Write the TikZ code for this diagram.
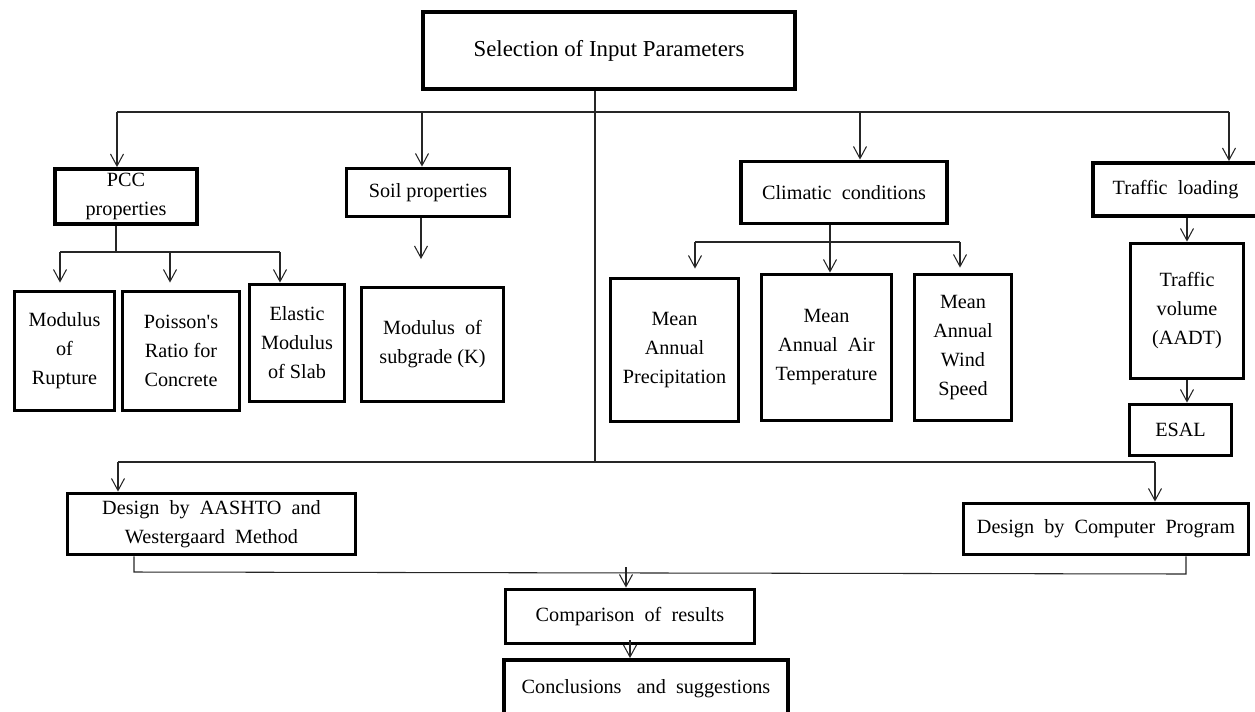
\documentclass[tikz,border=0pt]{standalone}
\usepackage{fontspec}
\setmainfont{Liberation Serif}
\usetikzlibrary{positioning,arrows.meta}

\begin{document}
\begin{tikzpicture}[x=0.02cm, y=-0.02cm, line width=0.6pt,
            squarednode/.style={rectangle, draw=black, line width=2.2pt, align=center, inner sep=1pt,
                                font=\fontsize{11.5}{16.5}\selectfont},
            link/.style={draw=black!85},
            >={Straight Barb[length=2.4mm,width=2.6mm]},
            ]
            \clip (0,0) rectangle (1255,711);
            %Nodes
            \node[squarednode, minimum width=7.44cm, minimum height=1.54cm, font=\fontsize{13}{16}\selectfont] (sel) at (609,50.5) {Selection of Input Parameters};

            \node[squarednode, minimum width=2.84cm, minimum height=1.10cm] (pcc)  at (126,196.5)  {PCC\\properties};
            \node[squarednode, minimum width=3.26cm, minimum height=0.96cm] (soil) at (428,192.5)  {Soil properties};
            \node[squarednode, minimum width=4.12cm, minimum height=1.24cm] (clim) at (844,192.5)  {Climatic~~conditions};
            \node[squarednode, minimum width=3.30cm, minimum height=1.06cm] (traf) at (1175.5,189.5) {Traffic~~loading};

            \node[squarednode, minimum width=2.00cm, minimum height=2.38cm] (rupt) at (64.5,351)  {Modulus\\of\\Rupture};
            \node[squarednode, minimum width=2.34cm, minimum height=2.38cm] (pois) at (181,351)   {Poisson\textquotesingle s\\Ratio for\\Concrete};
            \node[squarednode, minimum width=1.90cm, minimum height=2.34cm] (elas) at (297,343)   {Elastic\\Modulus\\of Slab};
            \node[squarednode, minimum width=2.84cm, minimum height=2.28cm] (subg) at (432.5,344.5) {Modulus~ of\\subgrade (K)};

            \node[squarednode, minimum width=2.56cm, minimum height=2.86cm] (prec) at (674.5,350) {Mean\\Annual\\Precipitation};
            \node[squarednode, minimum width=2.60cm, minimum height=2.92cm] (temp) at (826.5,347.5) {Mean\\Annual~~Air\\Temperature};
            \node[squarednode, minimum width=1.94cm, minimum height=2.92cm] (wind) at (963,347.5)   {Mean\\Annual\\Wind\\Speed};

            \node[squarednode, minimum width=2.26cm, minimum height=2.70cm] (vol)  at (1187,311)   {Traffic\\volume\\(AADT)};
            \node[squarednode, minimum width=2.04cm, minimum height=1.02cm] (esal) at (1180.5,430) {ESAL};

            \node[squarednode, minimum width=5.76cm, minimum height=1.22cm] (aash) at (211.5,524) {Design~ by~ AASHTO~ and\\Westergaard~ Method};
            \node[squarednode, minimum width=5.70cm, minimum height=1.02cm] (comp) at (1106,529)  {Design~ by~ Computer~ Program};
            \node[squarednode, minimum width=4.98cm, minimum height=1.08cm] (cmpr) at (630,616.5) {Comparison~ of~ results};
            \node[squarednode, minimum width=5.68cm, minimum height=1.16cm] (conc) at (646,689)   {Conclusions~~ and~ suggestions};

            %Points on the lines
            \coordinate (b1) at (117,112);
            \coordinate (b2) at (422,112);
            \coordinate (b3) at (860,112);
            \coordinate (b4) at (1229,112);
            \coordinate (tr) at (595,462);
            \coordinate (ps) at (116,252);
            \coordinate (p1) at (60,252);
            \coordinate (p2) at (170,252);
            \coordinate (p3) at (280,252);
            \coordinate (s1) at (421,259);
            \coordinate (c1) at (695,242);
            \coordinate (c2) at (830,242);
            \coordinate (c3) at (960,242);
            \coordinate (d1) at (118,462);
            \coordinate (d2) at (1155,462);
            \coordinate (m1) at (134,572);
            \coordinate (m2) at (1186,574);
            \coordinate (m3) at (626,567);

            %Lines
            \draw[link] (sel.south -| tr) -- (tr);
            \draw[link] (b1) -- (b4);
            \draw[link,->] (b1) -- (b1 |- pcc.north);
            \draw[link,->] (b2) -- (b2 |- soil.north);
            \draw[link,->] (b3) -- (b3 |- clim.north);
            \draw[link,->] (b4) -- (b4 |- traf.north);

            \draw[link] (pcc.south -| ps) -- (ps);
            \draw[link] (p1) -- (p3);
            \draw[link,->] (p1) -- ([yshift=0.14cm]p1 |- rupt.north);
            \draw[link,->] (p2) -- ([yshift=0.14cm]p2 |- pois.north);
            \draw[link,->] (p3) -- (p3 |- elas.north);
            \draw[link,->] (soil.south -| s1) -- (s1);

            \draw[link,->] (clim.south -| c2) -- (c2 |- temp.north);
            \draw[link] (c1) -- (c3);
            \draw[link,->] (c1) -- ([yshift=0.16cm]c1 |- prec.north);
            \draw[link,->] (c3) -- ([yshift=0.1cm]c3 |- wind.north);

            \draw[link,->] (traf.south -| vol.north) -- (vol.north);
            \draw[link,->] (vol.south) -- (vol.south |- esal.north);

            \draw[link] (d1) -- (d2);
            \draw[link,->] (d1) -- (d1 |- aash.north);
            \draw[link,->] (d2) -- (d2 |- comp.north);

            \draw[link] (aash.south -| m1) -- (m1) -- (m2) -- (comp.south -| m2);
            \draw[link,->] (m3) -- (m3 |- cmpr.north);
            \draw[link,->] ([yshift=0.1cm]cmpr.south) -- (cmpr.south |- conc.north);

        \end{tikzpicture}
\end{document}
